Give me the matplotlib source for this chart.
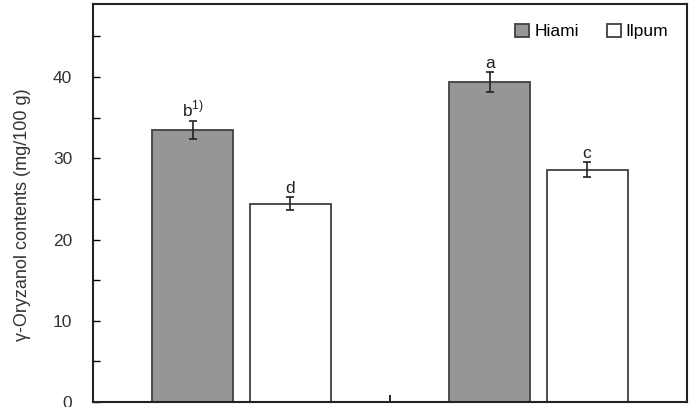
import numpy as np
import matplotlib.pyplot as plt

plt.rcParams['font.family'] = ['Liberation Sans', 'DejaVu Sans']

#-----------------------------------DATA
groups = [0, 1]
hiami = [33.5, 39.4]
hiami_err = [1.1, 1.2]
ilpum = [24.4, 28.6]
ilpum_err = [0.8, 0.9]
hiami_letters = ['b', 'a']
ilpum_letters = ['d', 'c']

#-----------------------------------PLOT
fig = plt.figure(figsize=(6.97, 4.07), dpi=100)
ax = fig.add_axes([0.1334, 0.0123, 0.8523, 0.9779])

x = np.array(groups)
w = 0.273
off = 0.1635

ax.bar(x - off, hiami, w, color='#969696', edgecolor='#404040', linewidth=1.3,
       label='Hiami', zorder=2)
ax.bar(x + off, ilpum, w, color='white', edgecolor='#404040', linewidth=1.3,
       label='Ilpum', zorder=2)
ax.errorbar(x - off, hiami, yerr=hiami_err, fmt='none', ecolor='#222222',
            elinewidth=1.2, capsize=3, capthick=1.2, zorder=3)
ax.errorbar(x + off, ilpum, yerr=ilpum_err, fmt='none', ecolor='#222222',
            elinewidth=1.2, capsize=3, capthick=1.2, zorder=3)

# significance letters
for i in range(len(groups)):
    t = hiami_letters[i]
    if i == 0:
        t = r'b$^{\mathregular{1)}}$'
    ax.text(x[i] - off, hiami[i] + hiami_err[i] + 0.2, t, ha='center', va='bottom',
            fontsize=12.5, color='#222222')
    ax.text(x[i] + off, ilpum[i] + ilpum_err[i] + 0.2, ilpum_letters[i], ha='center',
            va='bottom', fontsize=12.5, color='#222222')

ax.set_xlim(-0.5, 1.5)
ax.set_ylim(0, 49)
ax.set_xticks([0.5])
ax.set_xticklabels([])
ax.set_yticks([0, 10, 20, 30, 40])
ax.set_yticks([5, 15, 25, 35, 45], minor=True)
ax.tick_params(axis='y', which='both', direction='in', length=5, width=1,
               pad=15, labelsize=12.5, labelcolor='#333333')
ax.tick_params(axis='x', direction='in', length=5, width=1.2)
for s in ax.spines.values():
    s.set_linewidth(1.5)
    s.set_color('#222222')

ax.set_ylabel('γ-Oryzanol contents (mg/100 g)', fontsize=13, color='#333333')
ax.yaxis.set_label_coords(-0.105, 0.47)
ax.legend(loc='upper right', ncol=2, frameon=False, fontsize=12.5,
          handlelength=0.8, handleheight=0.8, handletextpad=0.3,
          columnspacing=1.6, bbox_to_anchor=(0.995, 0.99))

fig.savefig('out.png', dpi=100)
